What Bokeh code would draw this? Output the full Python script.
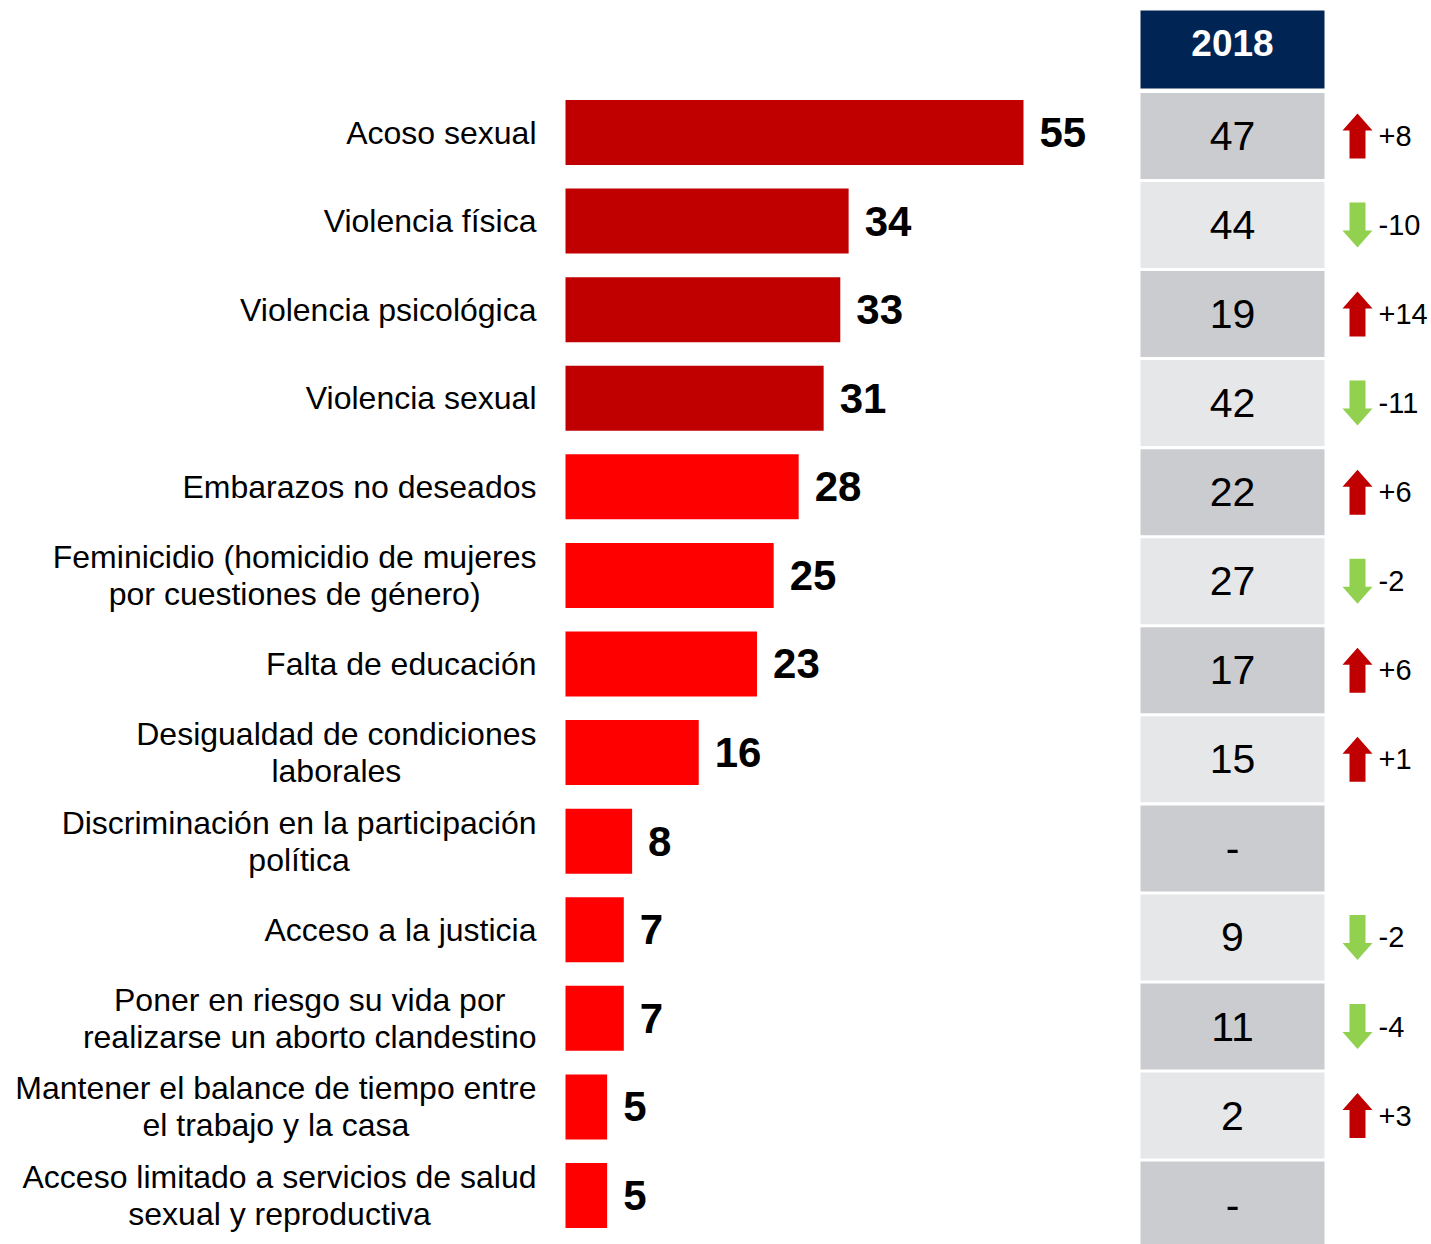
from bokeh.plotting import figure
from bokeh.models import Range1d, ColumnDataSource
from bokeh.core.properties import value
from bokeh.embed import file_html
from bokeh.resources import INLINE

# ---------------- data ----------------
categories = [
    "Acoso sexual",
    "Violencia física",
    "Violencia psicológica",
    "Violencia sexual",
    "Embarazos no deseados",
    "Feminicidio (homicidio de mujeres\npor cuestiones de género)",
    "Falta de educación",
    "Desigualdad de condiciones\nlaborales",
    "Discriminación en la participación\npolítica",
    "Acceso a la justicia",
    "Poner en riesgo su vida por\nrealizarse un aborto clandestino",
    "Mantener el balance de tiempo entre\nel trabajo y la casa",
    "Acceso limitado a servicios de salud\nsexual y reproductiva",
]
values_current = [55, 34, 33, 31, 28, 25, 23, 16, 8, 7, 7, 5, 5]
values_2018 = [47, 44, 19, 42, 22, 27, 17, 15, None, 9, 11, 2, None]
bar_colors = ["#C00000"] * 4 + ["#FF0000"] * 9
header_label = "2018"

# ---------------- layout (pixel geometry) ----------------
W, H = 1431, 1244
PAGE = 0
PX_PER_UNIT = 458.0 / 55.0     # horizontal pixels per value unit
X0_PAGE = 565.0                # x of value 0
ROW0 = 132.0                   # y of first bar centre
ROW_STEP = 88.58               # px between rows

def xd(px):
    return (px - X0_PAGE) / PX_PER_UNIT

def yd(py):
    return (py - ROW0) / ROW_STEP

FONT = value("Liberation Sans")

p = figure(
    width=W, height=H,
    x_range=Range1d(xd(PAGE), xd(PAGE + W)),
    y_range=Range1d(yd(PAGE + H), yd(PAGE)),
    output_backend="svg", toolbar_location=None,
    x_axis_location=None, y_axis_location=None,
    min_border=0, outline_line_color=None,
    background_fill_color="white", border_fill_color="white",
)
p.grid.visible = False

n = len(categories)
rows = list(range(n))

# bars
bar_src = ColumnDataSource(dict(
    y=rows, right=values_current, color=bar_colors,
    lbl=[str(v) for v in values_current],
    cat=categories,
))
p.hbar(y="y", left=0, right="right", height=65 / ROW_STEP,
       fill_color="color", line_color=None, source=bar_src)

# value labels
p.text(x="right", y="y", text="lbl", source=bar_src, x_offset=16,
       text_align="left", text_baseline="middle",
       text_font=FONT, text_font_style="bold", text_font_size="42px",
       text_color="black")

# category labels
p.text(x=xd(536), y="y", text="cat", source=bar_src,
       text_align="center", anchor=value("center_right"),
       text_baseline="middle", text_line_height=1.03,
       text_font=FONT, text_font_size="32px", text_color="black")

# ---------------- 2018 table ----------------
CELL_X = xd(1232)
CELL_W = 184 / PX_PER_UNIT
cell_y = [yd(135.4 + 89.06 * i) for i in rows]
cell_colors = ["#CBCCD0" if i % 2 == 0 else "#E6E7E9" for i in rows]
cell_src = ColumnDataSource(dict(
    y=cell_y, color=cell_colors,
    txt=["-" if v is None else str(v) for v in values_2018],
))
p.rect(x=CELL_X, y="y", width=CELL_W, height=86 / ROW_STEP,
       fill_color="color", line_color=None, source=cell_src)
p.text(x=CELL_X, y="y", text="txt", source=cell_src,
       text_align="center", text_baseline="middle",
       text_font=FONT, text_font_size="41px", text_color="black")

# header
p.rect(x=CELL_X, y=yd(49), width=CELL_W, height=78 / ROW_STEP,
       fill_color="#002554", line_color=None)
p.text(x=[CELL_X], y=[yd(42)], text=[header_label],
       text_align="center", text_baseline="middle",
       text_font=FONT, text_font_style="bold", text_font_size="37px",
       text_color="white")

# ---------------- change arrows ----------------
ARROW_X = xd(1357)
up_shape = [(0, -22.5), (15, -5.5), (8, -5.5), (8, 22.5),
            (-8, 22.5), (-8, -5.5), (-15, -5.5)]
xs, ys, acol, dx, dy, dtxt = [], [], [], [], [], []
for i in rows:
    old = values_2018[i]
    if old is None:
        continue
    d = values_current[i] - old
    flip = 1 if d > 0 else -1
    xs.append([ARROW_X + sx / PX_PER_UNIT for sx, sy in up_shape])
    ys.append([cell_y[i] + (sy * flip) / ROW_STEP for sx, sy in up_shape])
    acol.append("#C00000" if d > 0 else "#92D050")
    dx.append(xd(1378))
    dy.append(cell_y[i])
    dtxt.append(f"{d:+d}")

p.patches(xs=xs, ys=ys, fill_color=acol, line_color=None)
p.text(x=dx, y=dy, text=dtxt, text_align="left", text_baseline="middle",
       text_font=FONT, text_font_size="29px", text_color="black")

open("out.html", "w").write(file_html(p, INLINE))
